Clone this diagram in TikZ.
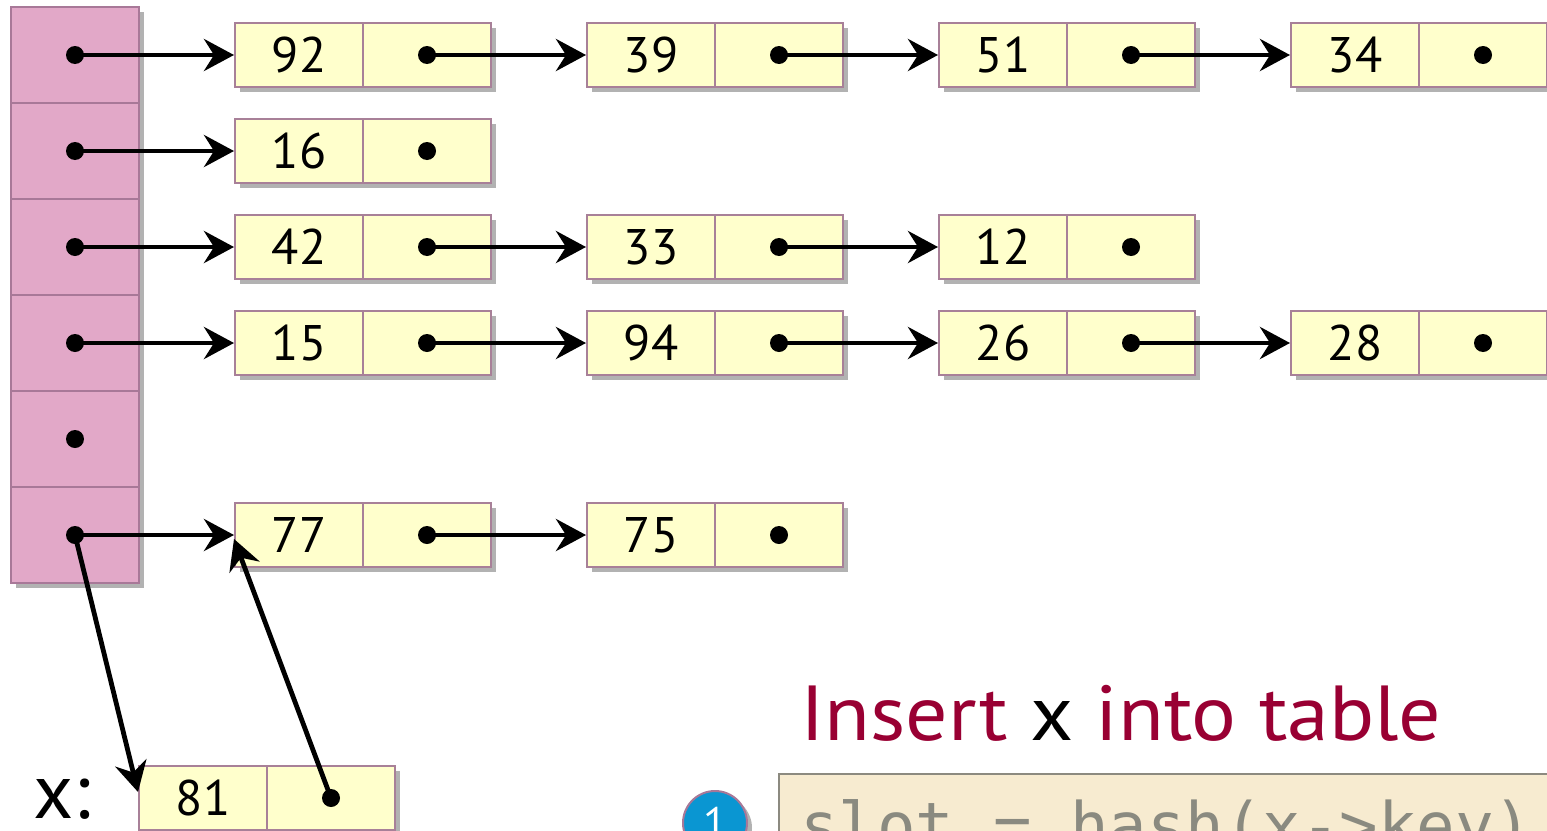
\documentclass[tikz,border=0pt]{standalone}
\usepackage{fontspec}
\usepackage{graphicx}
\setmainfont{PT Sans}
\newfontfamily\codefont{DejaVu Sans Mono}
\usetikzlibrary{arrows.meta,shadows}
\definecolor{slotfill}{HTML}{E2A8C8}
\definecolor{slotline}{HTML}{A87898}
\definecolor{cellfill}{HTML}{FFFFCC}
\definecolor{cellline}{HTML}{A88098}
\definecolor{titlecol}{HTML}{990033}
\definecolor{codefill}{HTML}{F7EBD0}
\definecolor{codeline}{HTML}{8C8A80}
\definecolor{codetext}{HTML}{8A8A80}
\definecolor{stepblue}{HTML}{0A96D2}
\tikzset{
  shad/.style={drop shadow={shadow xshift=2.5pt,shadow yshift=-2.5pt,opacity=0.3,fill=black}},
  slotbox/.style={draw=slotline,fill=slotfill,line width=1pt,minimum width=64pt,minimum height=48pt,inner sep=0pt,shad},
  keycell/.style={draw=cellline,fill=cellfill,line width=1pt,minimum width=64pt,minimum height=32pt,inner sep=0pt,font=\fontsize{25}{25}\selectfont,shad},
  ptrcell/.style={keycell},
  dotmark/.style={circle,fill=black,minimum size=9pt,inner sep=0pt},
  ptr/.style={line width=2.4pt,-{Stealth[length=15pt,width=16pt,inset=5pt]}},
}
\newcommand\rec[4]{%
  \node[keycell] (k#1) at (#2,#3) {#4};
  \node[ptrcell,anchor=west] (p#1) at ([xshift=-1pt]k#1.east) {};
  \node[dotmark] (d#1) at (p#1.center) {};}
\begin{document}
\begin{tikzpicture}[x=0.5pt,y=-0.5pt]
\useasboundingbox (0,0) rectangle (1547,830);
\clip (0,0) rectangle (1547,830);
% table slots
\foreach \i/\yy in {1/55,2/151,3/247,4/343,5/439,6/535}{
  \node[slotbox] (s\i) at (75,\yy) {};
}
\foreach \i in {1,...,6}{\node[dotmark] (sd\i) at (s\i.center) {};}
% chains
\rec{92}{299}{55}{92}
\rec{39}{651}{55}{39}
\rec{51}{1003}{55}{51}
\rec{34}{1355}{55}{34}
\rec{16}{299}{151}{16}
\rec{42}{299}{247}{42}
\rec{33}{651}{247}{33}
\rec{12}{1003}{247}{12}
\rec{15}{299}{343}{15}
\rec{94}{651}{343}{94}
\rec{26}{1003}{343}{26}
\rec{28}{1355}{343}{28}
\rec{77}{299}{535}{77}
\rec{75}{651}{535}{75}
\rec{81}{203}{798}{81}
% arrows
\draw[ptr] (sd1.center) -- (k92.west);
\draw[ptr] (d92.center) -- (k39.west);
\draw[ptr] (d39.center) -- (k51.west);
\draw[ptr] (d51.center) -- (k34.west);
\draw[ptr] (sd2.center) -- (k16.west);
\draw[ptr] (sd3.center) -- (k42.west);
\draw[ptr] (d42.center) -- (k33.west);
\draw[ptr] (d33.center) -- (k12.west);
\draw[ptr] (sd4.center) -- (k15.west);
\draw[ptr] (d15.center) -- (k94.west);
\draw[ptr] (d94.center) -- (k26.west);
\draw[ptr] (d26.center) -- (k28.west);
\draw[ptr] (sd6.center) -- (k77.west);
\draw[ptr] (d77.center) -- (k75.west);
\draw[ptr] (sd6.center) -- ([yshift=3pt]k81.west);
\draw[ptr] (d81.center) -- ([yshift=-2pt]k77.west);
% x label
\node[anchor=base west,inner sep=0pt,font=\fontsize{39}{39}\selectfont] (xlab) at (33,818) {x:};
% title
\node[anchor=base west,inner sep=0pt,font=\fontsize{39}{39}\selectfont,text=titlecol] (title) at (800,740) {\scalebox{1.075}[1]{Insert \textcolor{black}{x} into table}};
% code box
\node[draw=codeline,fill=codefill,line width=1pt,anchor=north west,minimum width=420pt,minimum height=60pt,inner sep=0pt,shad] (code) at (778,773) {};
\node[anchor=base west,inner sep=0pt,font=\codefont\fontsize{32}{32}\selectfont,text=codetext] (codetxt) at (800,848) {slot = hash(x->key)};
% step marker
\node[circle,draw=slotline,fill=stepblue,line width=1pt,minimum size=32pt,inner sep=0pt,text=white,font=\fontsize{22}{22}\selectfont,shad] (step1) at (715,823) {1};
\end{tikzpicture}
\end{document}
